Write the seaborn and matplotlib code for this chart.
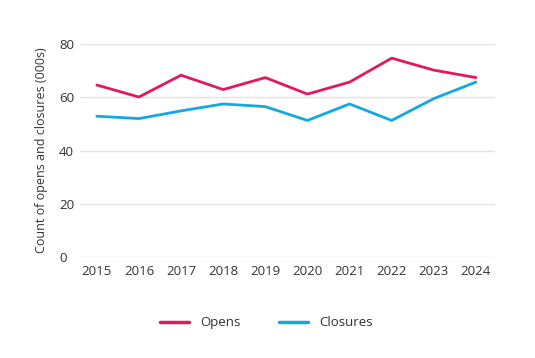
import pandas as pd
import matplotlib.pyplot as plt
import seaborn as sns

years = [2015, 2016, 2017, 2018, 2019, 2020, 2021, 2022, 2023, 2024]
opens = [64.6, 60.1, 68.3, 62.9, 67.4, 61.2, 65.7, 74.7, 70.2, 67.4]
closures = [52.9, 52.0, 54.9, 57.5, 56.5, 51.3, 57.5, 51.3, 59.5, 65.7]

df = pd.DataFrame({
    'year': years * 2,
    'value': opens + closures,
    'series': ['Opens'] * len(years) + ['Closures'] * len(years),
})

sns.set_style('white')
plt.rcParams['font.family'] = ['Open Sans', 'DejaVu Sans']
text_col = '#333333'

fig = plt.figure(figsize=(5.35, 3.58), dpi=100)
ax = fig.add_axes([0.1495, 0.282, 0.7755, 0.595])

sns.lineplot(data=df, x='year', y='value', hue='series',
             palette={'Opens': '#E2195B', 'Closures': '#12A9E1'},
             linewidth=2, ax=ax, legend=False, clip_on=False)

ax.set_xlim(2014.6, 2024.45)
ax.set_ylim(0, 80)
ax.set_yticks([0, 20, 40, 60, 80])
ax.set_xticks(years)
ax.grid(axis='y', color='#e3e3e3', linewidth=1)
ax.set_axisbelow(True)
sns.despine(ax=ax, left=True, bottom=True, top=True, right=True)
ax.tick_params(axis='both', length=0, labelsize=9.5, colors=text_col)
ax.tick_params(axis='x', pad=6)
ax.tick_params(axis='y', pad=15)
for lab in ax.get_yticklabels():
    lab.set_horizontalalignment('left')
ax.set_xlabel('')
ax.set_ylabel('Count of opens and closures (000s)', fontsize=9, color=text_col)
ax.yaxis.set_label_coords(-0.077, 0.5)

handles = [plt.Line2D([], [], color='#E2195B', lw=2.5),
           plt.Line2D([], [], color='#12A9E1', lw=2.5)]
fig.legend(handles, ['Opens', 'Closures'], loc='center', bbox_to_anchor=(0.498, 0.098),
           ncol=2, frameon=False, fontsize=9.5, handlelength=2.2, handletextpad=0.85,
           columnspacing=2.9, labelcolor=text_col)

plt.savefig('out.png', dpi=100)
